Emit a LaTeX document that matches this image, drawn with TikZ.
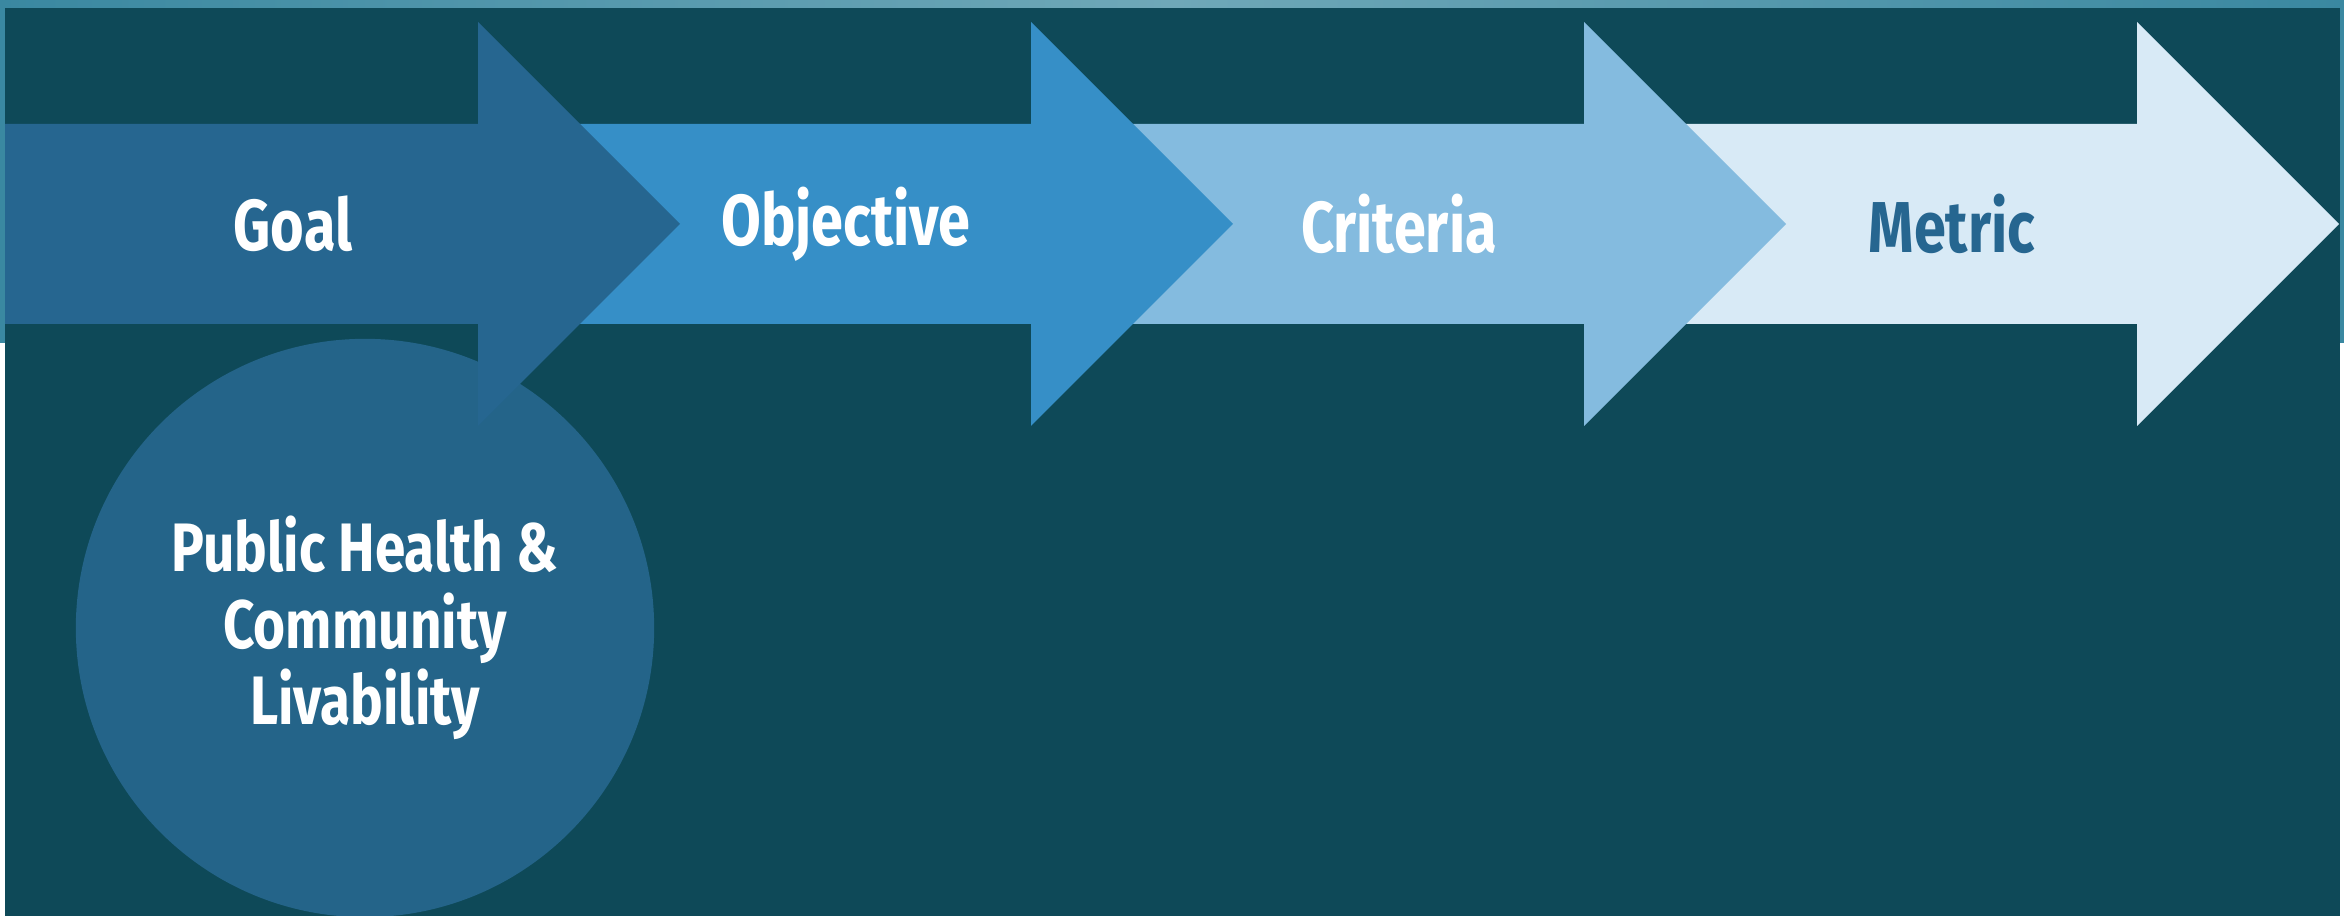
\documentclass[tikz,border=0pt]{standalone}
\usepackage{fontspec}
\setmainfont{Fira Sans}[FakeStretch=0.8]
\definecolor{bgdark}{HTML}{0E4958}
\definecolor{photo}{HTML}{3A88A1}
\definecolor{photolt}{HTML}{6FA8B8}
\definecolor{agoal}{HTML}{266690}
\definecolor{acirc}{HTML}{246489}
\definecolor{aobj}{HTML}{368FC7}
\definecolor{acrit}{HTML}{84BBDF}
\definecolor{amet}{HTML}{D8EAF6}
\begin{document}
\begin{tikzpicture}[x=0.01cm,y=-0.01cm,
  lbl/.style={font=\bfseries\fontsize{20.5}{24}\selectfont, text=white, inner sep=0pt, anchor=center},
  circtxt/.style={font=\bfseries\fontsize{19.5}{21.8}\selectfont, text=white, align=center, inner sep=0pt}]
\useasboundingbox (0,0) rectangle (2344,916);
% background photo strip and white page
\fill[white] (0,0) rectangle (2344,916);
\shade[left color=photo, right color=photo, middle color=photolt] (0,0) rectangle (2344,343);
\fill[bgdark] (5,8) rectangle (2340,916);
% circle
\node[circle, fill=acirc, minimum size=5.78cm, inner sep=0pt] (circ) at (365,628) {};
% arrows (drawn back to front)
\newcommand{\arrowshape}[3]{% #1 body left x, #2 head base x, #3 colour
  \fill[#3] (#1,124) -- (#2,124) -- (#2,22) -- ({#2+202},224) -- (#2,426) -- (#2,324) -- (#1,324) -- cycle;}
\arrowshape{1584}{2137}{amet}
\arrowshape{1031}{1584}{acrit}
\arrowshape{478}{1031}{aobj}
\arrowshape{5}{478}{agoal}
\node[lbl] (goal) at (293,224) {Goal};
\node[lbl] (obj) at (846,224) {Objective};
\node[lbl] (crit) at (1399,224) {Criteria};
\node[lbl, text=agoal] (met) at (1952,224) {Metric};
\node[circtxt] (ctext) at (circ.center) {Public Health \&\\Community\\Livability};
\end{tikzpicture}
\end{document}
